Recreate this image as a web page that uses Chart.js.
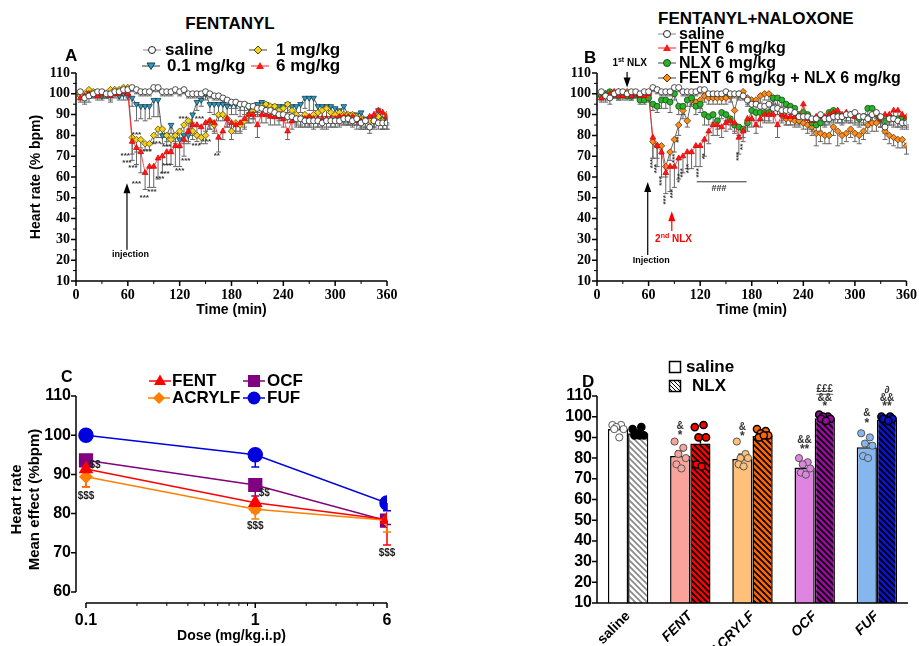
<!DOCTYPE html>
<html>
<head>
<meta charset="utf-8">
<title>Heart rate - fentanyl analogues</title>
<script src="https://cdn.jsdelivr.net/npm/chart.js@4.4.1/dist/chart.umd.min.js"></script>
<style>
  body { margin: 0; width: 919px; height: 646px; position: relative; overflow: hidden; background: #fff;
         font-family: 'Liberation Sans', Arial, sans-serif; font-weight: bold; color: #000; }
  .abs { position: absolute; white-space: nowrap; line-height: 1; }
  canvas { position: absolute; }
</style>
</head>
<body>
<canvas id="cA" width="440" height="265" style="left:0;top:60px"></canvas>
<canvas id="cB" width="398" height="275" style="left:521px;top:50px"></canvas>
<canvas id="cC" width="440" height="266" style="left:0;top:380px"></canvas>
<canvas id="cD" width="398" height="266" style="left:521px;top:380px"></canvas>
<canvas id="cDots" width="398" height="266" style="left:521px;top:380px"></canvas>

<!-- panel A header + legend -->
<div class="abs" style="left:230px;top:15px;font-size:17px;transform:translateX(-50%)">FENTANYL</div>
<div class="abs" style="left:65px;top:47px;font-size:17px">A</div>
<svg class="abs" style="left:142px;top:44px" width="20" height="12"><line x1="1" y1="6" x2="19" y2="6" stroke="#888"/><circle cx="10" cy="6" r="3.5" fill="#fff" stroke="#222"/></svg>
<div class="abs" style="left:165px;top:41px;font-size:17px">saline</div>
<svg class="abs" style="left:248px;top:44px" width="20" height="12"><line x1="1" y1="6" x2="19" y2="6" stroke="#444"/><polygon points="10,2 14,6 10,10 6,6" fill="#f2d21b" stroke="#5a4a00"/></svg>
<div class="abs" style="left:276px;top:41px;font-size:17px">1 mg/kg</div>
<svg class="abs" style="left:141px;top:60px" width="20" height="12"><line x1="1" y1="6" x2="19" y2="6" stroke="#333"/><polygon points="6,3 14,3 10,9.5" fill="#2e9cc2" stroke="#123c4c"/></svg>
<div class="abs" style="left:167px;top:57px;font-size:17px">0.1 mg/kg</div>
<svg class="abs" style="left:250px;top:60px" width="20" height="12"><line x1="1" y1="6" x2="19" y2="6" stroke="#ff2020"/><polygon points="10,2 14,9 6,9" fill="#ff1a1a"/></svg>
<div class="abs" style="left:276px;top:57px;font-size:17px">6 mg/kg</div>

<!-- panel B header + legend -->
<div class="abs" style="left:658px;top:10px;font-size:17px">FENTANYL+NALOXONE</div>
<div class="abs" style="left:584px;top:49px;font-size:17px">B</div>
<svg class="abs" style="left:657px;top:28px" width="20" height="12"><line x1="1" y1="6" x2="19" y2="6" stroke="#888"/><circle cx="10" cy="6" r="3.5" fill="#fff" stroke="#222"/></svg>
<div class="abs" style="left:679px;top:26px;font-size:16px">saline</div>
<svg class="abs" style="left:657px;top:42px" width="20" height="12"><line x1="1" y1="6" x2="19" y2="6" stroke="#ff2020"/><polygon points="10,2 14,9 6,9" fill="#ff1a1a"/></svg>
<div class="abs" style="left:679px;top:40px;font-size:16px">FENT 6 mg/kg</div>
<svg class="abs" style="left:657px;top:57px" width="20" height="12"><line x1="1" y1="6" x2="19" y2="6" stroke="#444"/><circle cx="10" cy="6" r="3.5" fill="#2db02d" stroke="#115511"/></svg>
<div class="abs" style="left:679px;top:55px;font-size:16px">NLX 6 mg/kg</div>
<svg class="abs" style="left:657px;top:72px" width="20" height="12"><line x1="1" y1="6" x2="19" y2="6" stroke="#444"/><polygon points="10,2 14,6 10,10 6,6" fill="#ff8c1a" stroke="#663300"/></svg>
<div class="abs" style="left:679px;top:70px;font-size:16px">FENT 6 mg/kg + NLX 6 mg/kg</div>

<!-- panel C legend -->
<div class="abs" style="left:61px;top:369px;font-size:16px">C</div>
<svg class="abs" style="left:148px;top:373px" width="24" height="16"><line x1="1" y1="8" x2="23" y2="8" stroke="#ff0000" stroke-width="1.5"/><polygon points="12,1.5 18,12 6,12" fill="#ff0000"/></svg>
<div class="abs" style="left:172px;top:372px;font-size:17px">FENT</div>
<svg class="abs" style="left:147px;top:390px" width="24" height="16"><line x1="1" y1="8" x2="23" y2="8" stroke="#ff7f00" stroke-width="1.5"/><polygon points="12,2 18,8 12,14 6,8" fill="#ff7f00"/></svg>
<div class="abs" style="left:172px;top:389px;font-size:17px">ACRYLF</div>
<svg class="abs" style="left:242px;top:373px" width="24" height="16"><line x1="1" y1="8" x2="23" y2="8" stroke="#800080" stroke-width="1.5"/><rect x="6" y="2" width="12" height="12" fill="#800080"/></svg>
<div class="abs" style="left:267px;top:372px;font-size:17px">OCF</div>
<svg class="abs" style="left:242px;top:390px" width="24" height="16"><line x1="1" y1="8" x2="23" y2="8" stroke="#0000dd" stroke-width="1.5"/><circle cx="12" cy="8" r="6.5" fill="#0000dd"/></svg>
<div class="abs" style="left:267px;top:389px;font-size:17px">FUF</div>

<!-- panel D legend -->
<div class="abs" style="left:582px;top:373px;font-size:17px">D</div>
<svg class="abs" style="left:668px;top:360px" width="14" height="14"><rect x="1.5" y="1.5" width="11" height="11" fill="#fff" stroke="#000" stroke-width="1.5"/></svg>
<div class="abs" style="left:686px;top:358px;font-size:17px">saline</div>
<svg class="abs" style="left:668px;top:379px" width="14" height="14"><defs><pattern id="hp" width="4" height="4" patternUnits="userSpaceOnUse"><path d="M0,0 L4,4 M-2,2 L2,6 M2,-2 L6,2" stroke="#000" stroke-width="1"/></pattern></defs><rect x="1.5" y="1.5" width="11" height="11" fill="url(#hp)" stroke="#000" stroke-width="1.5"/></svg>
<div class="abs" style="left:692px;top:377px;font-size:17px">NLX</div>

<script>
// ---------- data ----------
const times = [5, 10, 15, 20, 25, 30, 35, 40, 45, 50, 55, 60,
  65, 70, 75, 80, 85, 90, 95, 100, 105, 110, 115, 120,
  125, 130, 135, 140, 145, 150, 155, 160, 165, 170, 175, 180,
  185, 190, 195, 200, 205, 210, 215, 220, 225, 230, 235, 240,
  245, 250, 255, 260, 265, 270, 275, 280, 285, 290, 295, 300,
  305, 310, 315, 320, 325, 330, 335, 340, 345, 350, 355, 360];

// panel A: fentanyl, % of baseline heart rate
const aSaline = [101, 98, 99, 100, 101, 101, 100, 100, 101, 101, 102, 102,
  103, 102, 101, 101, 101, 103, 103, 101, 101, 101, 102, 101,
  102, 100, 100, 100, 100, 101, 100, 99, 99, 98, 97, 96,
  96, 95, 95, 94, 94, 93, 93, 92, 92, 91, 90, 90,
  89, 89, 88, 88, 87, 87, 87, 87, 86, 87, 87, 87,
  87, 88, 88, 87, 88, 86, 87, 84, 87, 86, 86, 86];
const aLow = [99, 100, 101, 101, 100, 99, 100, 100, 101, 99, 100, 99,
  98, 95, 94, 94, 94, 97, 97, 80, 80, 85, 80, 78,
  80, 80, 90, 96, 97, 100, 95, 95, 95, 95, 94, 95,
  95, 95, 95, 93, 93, 95, 96, 95, 94, 94, 94, 94,
  95, 94, 94, 95, 98, 98, 98, 94, 94, 94, 94, 93,
  92, 94, 90, 90, 90, 91, 88, 88, 89, 92, 88, 88];
const aMid = [99, 100, 102, 101, 100, 100, 100, 102, 102, 102, 103, 103,
  79, 78, 78, 76, 76, 80, 83, 83, 80, 78, 80, 82,
  85, 87, 82, 80, 79, 80, 87, 85, 90, 90, 88, 82,
  86, 85, 87, 90, 92, 93, 94, 95, 94, 94, 92, 93,
  95, 92, 90, 88, 90, 88, 90, 91, 92, 93, 91, 90,
  91, 90, 90, 90, 89, 88, 87, 87, 87, 89, 87, 90];
const aHigh = [98, 99, 100, 100, 99, 100, 100, 99, 100, 100, 101, 100,
  77, 74, 72, 62, 65, 65, 69, 70, 72, 72, 75, 75,
  78, 82, 85, 85, 84, 86, 87, 86, 79, 82, 88, 86,
  85, 86, 88, 90, 90, 85, 90, 90, 89, 89, 89, 88,
  82, 87, 88, 88, 88, 89, 88, 88, 88, 88, 88, 88,
  89, 89, 89, 89, 87, 87, 87, 89, 90, 92, 91, 89];
const aSalineErr = [2, 3, 3, 2, 2, 2, 2, 2, 2, 2, 2, 2,
  2, 2, 2, 2, 2, 2, 2, 2, 2, 2, 2, 2,
  2, 2, 2, 2, 2, 2, 2, 2, 2, 2, 2, 3,
  3, 3, 3, 3, 3, 3, 3, 3, 3, 3, 3, 3,
  3, 3, 3, 3, 3, 3, 4, 3, 3, 4, 3, 3,
  3, 3, 3, 3, 3, 3, 3, 3, 3, 3, 3, 3];
const aLowErr = [1, 4, 2, 2, 2, 2, 2, 3, 2, 2, 3, 2,
  4, 8, 6, 7, 6, 8, 8, 4, 3, 4, 3, 4,
  4, 3, 4, 4, 3, 3, 4, 5, 6, 5, 6, 5,
  5, 6, 5, 5, 5, 4, 4, 4, 4, 4, 4, 4,
  4, 4, 4, 4, 5, 6, 6, 5, 5, 5, 5, 4,
  4, 4, 5, 5, 5, 4, 4, 4, 5, 6, 5, 5];
const aMidErr = [2, 2, 2, 2, 2, 2, 2, 2, 2, 2, 2, 2,
  8, 6, 4, 3, 3, 4, 4, 4, 5, 5, 4, 4,
  5, 4, 4, 3, 3, 4, 4, 4, 3, 3, 4, 4,
  4, 4, 4, 4, 4, 4, 4, 4, 4, 4, 4, 4,
  4, 4, 4, 4, 4, 4, 4, 4, 4, 4, 4, 4,
  4, 4, 4, 4, 4, 4, 4, 4, 4, 4, 4, 4];
const aHighErr = [2, 2, 2, 2, 2, 2, 2, 3, 2, 2, 2, 2,
  9, 8, 10, 8, 10, 10, 10, 8, 6, 6, 10, 10,
  8, 6, 5, 5, 4, 4, 4, 4, 7, 4, 4, 4,
  4, 4, 4, 4, 4, 6, 4, 4, 4, 4, 4, 4,
  4, 4, 4, 4, 4, 4, 4, 4, 4, 4, 4, 4,
  4, 4, 4, 4, 4, 4, 4, 4, 4, 4, 4, 4];

// panel B: fentanyl + naloxone
const bSaline = [101, 99, 98, 100, 101, 101, 100, 101, 101, 100, 101, 101,
  103, 102, 101, 101, 101, 103, 103, 101, 101, 101, 101, 102,
  102, 100, 100, 100, 100, 101, 100, 100, 100, 99, 97, 95,
  95, 94, 94, 95, 93, 93, 92, 92, 92, 91, 89, 89,
  89, 88, 88, 90, 88, 88, 89, 89, 89, 90, 90, 91,
  89, 89, 88, 90, 91, 89, 84, 88, 88, 87, 86, 86];
const bFent = [98, 99, 100, 101, 99, 99, 100, 99, 100, 99, 99, 100,
  79, 75, 72, 62, 65, 65, 69, 70, 72, 72, 75, 75,
  78, 82, 85, 85, 84, 86, 87, 86, 79, 82, 88, 88,
  85, 88, 90, 90, 90, 85, 90, 89, 89, 89, 89, 95,
  88, 87, 89, 89, 89, 90, 91, 92, 90, 91, 90, 89,
  89, 89, 88, 90, 90, 88, 90, 90, 92, 92, 90, 89];
const bNlx = [99, 100, 101, 100, 99, 100, 99, 99, 100, 97, 97, 98,
  95, 94, 97, 97, 96, 100, 94, 94, 97, 98, 94, 95,
  90, 89, 90, 87, 91, 90, 88, 85, 84, 83, 86, 92,
  91, 91, 91, 91, 98, 98, 97, 95, 94, 93, 90, 91,
  90, 86, 85, 86, 88, 91, 92, 90, 89, 90, 90, 90,
  88, 89, 93, 93, 90, 88, 87, 89, 88, 88, 88, 88];
const bCombo = [99, 100, 100, 100, 101, 100, 101, 100, 100, 99, 99, 100,
  77, 75, 75, 65, 72, 78, 85, 92, 87, 97, 96, 97,
  99, 98, 98, 98, 98, 98, 99, 92, 100, 101, 98, 97,
  97, 99, 100, 100, 98, 93, 90, 88, 88, 87, 87, 86,
  85, 84, 81, 81, 80, 80, 84, 82, 80, 81, 83, 81,
  80, 82, 85, 86, 86, 88, 82, 80, 79, 78, 78, 75];
const bSalineErr = [2, 3, 3, 2, 2, 2, 2, 2, 2, 2, 2, 2,
  2, 2, 2, 2, 2, 2, 2, 2, 2, 2, 2, 2,
  2, 2, 2, 2, 2, 2, 2, 2, 2, 2, 3, 3,
  3, 3, 3, 3, 3, 3, 3, 3, 3, 3, 3, 3,
  3, 3, 3, 3, 3, 3, 3, 3, 3, 3, 3, 3,
  3, 3, 3, 3, 3, 3, 3, 3, 3, 3, 3, 3];
const bFentErr = [2, 2, 2, 2, 2, 2, 2, 2, 2, 2, 2, 2,
  10, 10, 12, 10, 12, 10, 10, 8, 8, 8, 10, 10,
  8, 6, 5, 5, 5, 4, 4, 4, 8, 5, 4, 4,
  4, 4, 4, 4, 4, 6, 4, 4, 4, 4, 4, 6,
  5, 4, 4, 4, 4, 4, 4, 4, 4, 4, 4, 4,
  4, 4, 4, 4, 4, 4, 4, 4, 4, 4, 4, 4];
const bNlxErr = [2, 2, 2, 2, 2, 2, 2, 2, 2, 2, 2, 2,
  3, 3, 4, 4, 5, 3, 4, 4, 3, 3, 4, 4,
  5, 4, 4, 4, 3, 3, 3, 4, 4, 4, 4, 4,
  4, 4, 4, 4, 3, 3, 3, 3, 4, 4, 4, 4,
  4, 4, 4, 4, 4, 4, 4, 4, 4, 4, 4, 4,
  4, 4, 3, 3, 4, 4, 4, 4, 4, 4, 4, 4];
const bComboErr = [2, 2, 2, 2, 2, 2, 2, 2, 2, 2, 2, 2,
  8, 6, 4, 5, 4, 6, 5, 4, 3, 3, 3, 4,
  3, 3, 3, 3, 3, 3, 3, 8, 3, 3, 3, 3,
  3, 3, 3, 3, 3, 3, 3, 3, 3, 3, 3, 3,
  4, 4, 6, 4, 4, 4, 4, 7, 4, 4, 4, 4,
  4, 4, 4, 4, 4, 4, 4, 4, 4, 4, 4, 4];

// panel C: mean effect per dose
const doses = [0.1, 1, 6];
const cFent = [91.4, 82.8, 78.5];
const cAcrylf = [89.4, 81.1, 78.3];
const cOcf = [93.6, 87.3, 78.2];
const cFuf = [100, 95, 82.7];
const cFentErr = [4.6, 2.5, 6.5];
const cAcrylfErr = [2.7, 2.5, 3.0];
const cOcfErr = [1.2, 2.8, 1.0];
const cFufErr = [0.4, 3.1, 2.0];
const cYTicks = [60, 70, 80, 90, 100, 110];

// panel D: saline vs NLX pretreatment
const groups = ['saline', 'FENT', 'ACRYLF', 'OCF', 'FUF'];
const dSaline = [94, 81, 79.6, 75.5, 85.2];
const dNlx = [92, 87, 90.7, 99.2, 98.7];
const dSalineErr = [1.2, 2.5, 2.2, 1.2, 2.0];
const dNlxErr = [1.0, 4.0, 1.2, 0.8, 0.6];
const dSalineDots = [[96, 96, 95, 94, 94, 90], [88, 85, 82, 80, 77, 75], [88, 82, 80, 80, 77, 76],
  [80, 78, 77, 75, 73, 72], [92, 90, 87, 86, 81, 80]];
const dNlxDots = [[94, 95, 92, 91, 91, 91], [95, 96, 90, 90, 77, 76], [94, 93, 92, 91, 90, 91],
  [101, 100, 100, 99, 99, 98], [100, 100, 99, 99, 99, 98]];
const dTicks = [10, 20, 30, 40, 50, 60, 70, 80, 90, 100, 110];

// annotations (time, value, text)
const starsA = [[70, 80.5, '***'], [57, 70, '***'], [59, 67, '***'], [66, 64.5, '***'], [70, 56.5, '***'],
  [79, 50, '***'], [88, 53, '***'], [82, 72, '***'], [93, 76, '***'], [105, 74.5, '***'],
  [105, 65.5, '***'], [103, 61.5, '***'], [97, 59, '***'], [120, 63, '***'], [127, 68, '***'],
  [124, 88, '***'], [143, 88, '***'], [139, 75, '***'], [151, 77, '***'], [163, 70, '**']];
const starsB = [[65, 66.5, '***'], [70, 64, '***'], [75, 58, '***'], [80, 49, '***'], [88, 52, '***'],
  [90, 69, '***'], [95, 78, '**'], [96, 59.5, '***'], [100, 62, '***'], [107, 64, '***'],
  [118, 62, '***'], [125, 70, '**'], [165, 70, '***'], [170, 74.5, '**']];

// ---------- styles ----------
const SANS = "'Liberation Sans', Arial, sans-serif";
const SERIF = "'Liberation Serif', 'Times New Roman', serif";
const NARROW = "'Liberation Sans Narrow', 'Liberation Sans', Arial, sans-serif";
const jitter = [-0.09, 0.05, -0.03, 0.09, -0.06, 0.02];
const lightCols = ['#ffffff', '#f9a39b', '#ffc07a', '#dd85e0', '#86b6ee'];
const strongCols = ['#ffffff', '#ff0000', '#ff6600', '#9a0aa0', '#0a14cc'];

function series(vals) { return vals.map((v, i) => ({ x: times[i], y: v })); }

function hatch(bg, fg) {
  const c = document.createElement('canvas');
  c.width = c.height = 6;
  const g = c.getContext('2d');
  g.fillStyle = bg; g.fillRect(0, 0, 6, 6);
  g.strokeStyle = fg; g.lineWidth = 1.7;
  g.beginPath();
  g.moveTo(-1, -1); g.lineTo(7, 7);
  g.moveTo(-4, 2); g.lineTo(4, 10);
  g.moveTo(2, -4); g.lineTo(10, 4);
  g.stroke();
  return g.createPattern(c, 'repeat');
}

// ---------- plugins ----------
const errorBars = {
  id: 'errorBars',
  beforeDatasetsDraw(chart) {
    const ctx = chart.ctx;
    chart.data.datasets.forEach((ds, di) => {
      if (!ds.errors) return;
      const meta = chart.getDatasetMeta(di);
      const ys = chart.scales[meta.yAxisID];
      const cap = ds.errorCap || 2.5, dir = ds.errorDir || -1;
      ctx.save();
      ctx.strokeStyle = ds.errorColor || '#666';
      ctx.lineWidth = ds.errorWidth || 1;
      meta.data.forEach((el, i) => {
        const e = ds.errors[i];
        if (!e) return;
        const v = meta.controller.getParsed(i).y;
        const y0 = ys.getPixelForValue(v), y1 = ys.getPixelForValue(v + dir * e);
        ctx.beginPath();
        ctx.moveTo(el.x, y0); ctx.lineTo(el.x, y1);
        ctx.moveTo(el.x - cap, y1); ctx.lineTo(el.x + cap, y1);
        ctx.stroke();
      });
      ctx.restore();
    });
  }
};

// Prism-like axes: own axis lines, major and minor ticks
function axesPlugin(a) {
  return {
    id: 'prismAxes',
    afterDraw(chart) {
      const { ctx, chartArea } = chart;
      const xs = chart.scales.x, ys = chart.scales.y;
      const bottom = chartArea.bottom, left = chartArea.left;
      const x0 = a.xFrom != null ? xs.getPixelForValue(a.xFrom) : chartArea.left;
      const x1 = a.xTo != null ? xs.getPixelForValue(a.xTo) : chartArea.right;
      const y0 = a.yFrom != null ? ys.getPixelForValue(a.yFrom) : chartArea.bottom;
      const y1 = a.yTo != null ? ys.getPixelForValue(a.yTo) : chartArea.top;
      ctx.save();
      ctx.strokeStyle = '#000';
      ctx.lineWidth = 1.5;
      ctx.beginPath();
      ctx.moveTo(x0, bottom); ctx.lineTo(x1, bottom);
      ctx.moveTo(left, y0); ctx.lineTo(left, y1);
      (a.xMajor || []).forEach(v => { const p = xs.getPixelForValue(v); ctx.moveTo(p, bottom); ctx.lineTo(p, bottom + 5); });
      (a.yMajor || []).forEach(v => { const p = ys.getPixelForValue(v); ctx.moveTo(left, p); ctx.lineTo(left - 5, p); });
      ctx.stroke();
      ctx.lineWidth = 1;
      ctx.beginPath();
      (a.xMinor || []).forEach(v => { const p = xs.getPixelForValue(v); ctx.moveTo(p, bottom); ctx.lineTo(p, bottom + 3); });
      (a.yMinor || []).forEach(v => { const p = ys.getPixelForValue(v); ctx.moveTo(left, p); ctx.lineTo(left - 3, p); });
      ctx.stroke();
      ctx.restore();
    }
  };
}

function drawParts(ctx, parts, size, family) {
  const fontOf = sup => `bold ${sup ? Math.round(size * 0.7) : size}px ${family}`;
  let w = 0;
  parts.forEach(([s, sup]) => { ctx.font = fontOf(sup); w += ctx.measureText(s).width; });
  let x = -w / 2;
  ctx.textAlign = 'left';
  ctx.textBaseline = 'middle';
  parts.forEach(([s, sup]) => {
    ctx.font = fontOf(sup);
    ctx.fillText(s, x, sup ? -size * 0.35 : 0);
    x += ctx.measureText(s).width;
  });
  return w;
}

function notesPlugin(notes) {
  return {
    id: 'notes',
    afterDraw(chart) {
      const ctx = chart.ctx, xs = chart.scales.x, ys = chart.scales.y;
      const px = v => xs.getPixelForValue(v), py = v => ys.getPixelForValue(v);
      ctx.save();
      (notes.arrows || []).forEach(a => {
        const x = px(a.x), y1 = py(a.from), y2 = py(a.to);
        const d = y2 < y1 ? 1 : -1;
        ctx.strokeStyle = ctx.fillStyle = a.color || '#000';
        ctx.lineWidth = 1.2;
        ctx.beginPath(); ctx.moveTo(x, y1); ctx.lineTo(x, y2 + d * 5); ctx.stroke();
        ctx.beginPath(); ctx.moveTo(x, y2); ctx.lineTo(x - 3.5, y2 + d * 10); ctx.lineTo(x + 3.5, y2 + d * 10);
        ctx.closePath(); ctx.fill();
      });
      (notes.lines || []).forEach(l => {
        ctx.strokeStyle = '#333'; ctx.lineWidth = 1;
        ctx.beginPath(); ctx.moveTo(px(l.x1), py(l.y)); ctx.lineTo(px(l.x2), py(l.y)); ctx.stroke();
      });
      (notes.texts || []).forEach(t => {
        ctx.save();
        ctx.translate(px(t.x), py(t.y));
        if (t.rot) ctx.rotate(t.rot);
        ctx.fillStyle = t.color || '#333';
        const size = t.size || 9;
        const w = drawParts(ctx, t.parts || [[t.text, 0]], size, t.family || SANS);
        if (t.underline) {
          ctx.strokeStyle = ctx.fillStyle; ctx.lineWidth = 0.8;
          ctx.beginPath(); ctx.moveTo(-w / 2, size * 0.55); ctx.lineTo(w / 2, size * 0.55); ctx.stroke();
        }
        ctx.restore();
      });
      ctx.restore();
    }
  };
}

// ---------- shared options for the time-course panels ----------
function timeOptions(showYTitle, padTop, padRight) {
  return {
    responsive: false, animation: false, events: [],
    layout: { padding: { top: padTop, right: padRight, left: 0, bottom: 0 } },
    plugins: { legend: { display: false }, tooltip: { enabled: false } },
    scales: {
      x: {
        type: 'linear', min: 0, max: 360,
        grid: { display: false, tickLength: 4 }, border: { display: false },
        ticks: { stepSize: 60, autoSkip: false, maxRotation: 0, padding: 2, color: '#000',
                 font: { family: SERIF, size: 14, weight: 'bold' } },
        title: { display: true, text: 'Time (min)', color: '#000', padding: { top: 0, bottom: 6 },
                 font: { family: SANS, size: 14, weight: 'bold' } },
        afterFit: s => { s.height = 44; }
      },
      y: {
        min: 10, max: 110,
        grid: { display: false, tickLength: 4 }, border: { display: false },
        ticks: { stepSize: 10, autoSkip: false, padding: 2, color: '#000', font: { family: SERIF, size: 14, weight: 'bold' } },
        title: { display: showYTitle, text: 'Heart rate (% bpm)', color: '#000', padding: { top: 28, bottom: 0 },
                 font: { family: SANS, size: 14, weight: 'bold' } },
        afterFit: s => { s.width = 76; }
      }
    }
  };
}

const timeAxes = {
  xMajor: [0, 60, 120, 180, 240, 300, 360], xMinor: [30, 90, 150, 210, 270, 330],
  yMajor: [10, 20, 30, 40, 50, 60, 70, 80, 90, 100, 110], yMinor: [15, 25, 35, 45, 55, 65, 75, 85, 95, 105]
};

function lineSet(vals, errs, line, style, r, bg, border, rot) {
  return { data: series(vals), errors: errs, borderColor: line, borderWidth: 0.8, pointStyle: style,
           pointRadius: r, pointRotation: rot || 0, pointBackgroundColor: bg, pointBorderColor: border,
           pointBorderWidth: 0.8, errorColor: '#666' };
}

// ---------- panel A ----------
new Chart(document.getElementById('cA'), {
  type: 'line',
  data: { datasets: [
    lineSet(aSaline, aSalineErr, '#999', 'circle', 3, '#fff', '#222'),
    lineSet(aHigh, aHighErr, '#ff2020', 'triangle', 3.3, '#ff1a1a', '#e00000'),
    lineSet(aMid, aMidErr, '#444', 'rectRot', 3.3, '#f2d21b', '#5a4a00'),
    lineSet(aLow, aLowErr, '#333', 'triangle', 3.3, '#2e9cc2', '#123c4c', 180)
  ] },
  options: timeOptions(true, 13, 53),
  plugins: [errorBars, axesPlugin(timeAxes), notesPlugin({
    arrows: [{ x: 59, from: 25, to: 57 }],
    texts: [{ x: 63, y: 22.5, text: 'injection', size: 9, color: '#000', family: NARROW }]
      .concat(starsA.map(s => ({ x: s[0], y: s[1], text: s[2], size: 8 })))
  })]
});

// ---------- panel B ----------
new Chart(document.getElementById('cB'), {
  type: 'line',
  data: { datasets: [
    lineSet(bSaline, bSalineErr, '#999', 'circle', 3, '#fff', '#222'),
    lineSet(bFent, bFentErr, '#ff2020', 'triangle', 3.3, '#ff1a1a', '#e00000'),
    lineSet(bNlx, bNlxErr, '#444', 'circle', 3, '#2db02d', '#115511'),
    lineSet(bCombo, bComboErr, '#444', 'rectRot', 3.3, '#ff8c1a', '#663300')
  ] },
  options: timeOptions(false, 23, 11),
  plugins: [errorBars, axesPlugin(timeAxes), notesPlugin({
    arrows: [{ x: 59, from: 22.5, to: 57.6 }, { x: 35, from: 110.5, to: 103 }, { x: 87, from: 34, to: 43.5, color: '#ff0000' }],
    lines: [{ x1: 116, x2: 174, y: 57.7 }],
    texts: [
      { x: 63, y: 20, text: 'Injection', size: 9, color: '#000', family: NARROW },
      { x: 38, y: 114.5, parts: [['1', 0], ['st', 1], [' NLX', 0]], size: 10, color: '#000' },
      { x: 89, y: 30, parts: [['2', 0], ['nd', 1], [' NLX', 0]], size: 10, color: '#ff0000' },
      { x: 142, y: 54.3, text: '###', size: 9 }
    ].concat(starsB.map(s => ({ x: s[0], y: s[1], text: s[2], size: 8, rot: -Math.PI / 2 })))
  })]
});

// ---------- panel C ----------
function doseSet(vals, errs, color, style, r) {
  return { data: vals.map((v, i) => ({ x: doses[i], y: v })), errors: errs, borderColor: color,
           borderWidth: 1.5, pointStyle: style, pointRadius: r, pointBackgroundColor: color,
           pointBorderColor: color, errorColor: color, errorWidth: 1.5, errorCap: 4 };
}
new Chart(document.getElementById('cC'), {
  type: 'line',
  data: { datasets: [
    doseSet(cFent, cFentErr, '#ff0000', 'triangle', 7),
    doseSet(cAcrylf, cAcrylfErr, '#ff7f00', 'rectRot', 6),
    doseSet(cOcf, cOcfErr, '#800080', 'rect', 9),
    doseSet(cFuf, cFufErr, '#0000dd', 'circle', 7)
  ] },
  options: {
    responsive: false, animation: false, events: [],
    layout: { padding: { top: 16, right: 53, left: 0, bottom: 0 } },
    plugins: { legend: { display: false }, tooltip: { enabled: false } },
    scales: {
      x: {
        type: 'logarithmic', min: 0.0873, max: 6,
        afterBuildTicks: s => { s.ticks = doses.map(v => ({ value: v })); },
        grid: { display: false, tickLength: 5 }, border: { display: false },
        ticks: { callback: v => String(v), autoSkip: false, maxRotation: 0, padding: 3, color: '#000',
                 font: { family: SANS, size: 16, weight: 'bold' } },
        title: { display: true, text: 'Dose (mg/kg.i.p)', color: '#000', padding: { top: 0, bottom: 1 },
                 font: { family: SANS, size: 14, weight: 'bold' } },
        afterFit: s => { s.height = 43; }
      },
      y: {
        min: 57.2, max: 110,
        afterBuildTicks: s => { s.ticks = cYTicks.map(v => ({ value: v })); },
        grid: { display: false, tickLength: 4 }, border: { display: false },
        ticks: { autoSkip: false, padding: 1, color: '#000', font: { family: SANS, size: 16, weight: 'bold' } },
        title: { display: true, text: ['Heart rate', 'Mean effect (%bpm)'], color: '#000', padding: { top: 8, bottom: 0 },
                 font: { family: SANS, size: 15, weight: 'bold' } },
        afterFit: s => { s.width = 76; }
      }
    }
  },
  plugins: [errorBars, axesPlugin({
    xFrom: 0.1, xTo: 6, yFrom: 60, yTo: 110,
    xMajor: doses, xMinor: [0.2, 0.3, 0.4, 0.5, 0.6, 0.7, 0.8, 0.9, 2, 3, 4, 5],
    yMajor: cYTicks
  }), notesPlugin({
    texts: [
      { x: 0.113, y: 92.3, text: '$$', size: 10, color: '#222' },
      { x: 0.1, y: 84.5, text: '$$$', size: 10, color: '#222' },
      { x: 1.13, y: 85.2, text: '$$', size: 10, color: '#222' },
      { x: 1, y: 76.8, text: '$$$', size: 10, color: '#222' },
      { x: 6, y: 70, text: '$$$', size: 10, color: '#222' }
    ]
  })]
});

// ---------- panel D: bars ----------
const nlxFills = strongCols.map((c, i) => i === 0 ? hatch('#ffffff', '#8a8a8a') : hatch(c, '#000'));
new Chart(document.getElementById('cD'), {
  type: 'bar',
  data: {
    labels: groups,
    datasets: [
      { data: dSaline, backgroundColor: lightCols, borderColor: '#000', borderWidth: 1.5, borderSkipped: false,
        categoryPercentage: 0.65, barPercentage: 1, errors: dSalineErr, errorDir: 1, errorColor: '#000',
        errorWidth: 1.5, errorCap: 4 },
      { data: dNlx, backgroundColor: nlxFills, borderColor: '#000', borderWidth: 1.5, borderSkipped: false,
        categoryPercentage: 0.65, barPercentage: 1, errors: dNlxErr, errorDir: 1, errorColor: '#000',
        errorWidth: 1.5, errorCap: 4 }
    ]
  },
  options: {
    responsive: false, animation: false, events: [],
    layout: { padding: { top: 16, right: 11, left: 0, bottom: 0 } },
    plugins: { legend: { display: false }, tooltip: { enabled: false } },
    scales: {
      x: {
        grid: { display: false, tickLength: 3 }, border: { display: false },
        ticks: { autoSkip: false, minRotation: 45, maxRotation: 45, padding: 2, color: '#000',
                 font: c => ({ family: SANS, size: 14, weight: 'bold', style: c.index === 0 ? 'normal' : 'italic' }) },
        afterFit: s => { s.height = 43; }
      },
      y: {
        min: 10, max: 110,
        afterBuildTicks: s => { s.ticks = dTicks.map(v => ({ value: v })); },
        grid: { display: false, tickLength: 4 }, border: { display: false },
        ticks: { autoSkip: false, padding: 1, color: '#000', font: { family: SANS, size: 16, weight: 'bold' } },
        afterFit: s => { s.width = 76; }
      }
    }
  },
  plugins: [errorBars, axesPlugin({ yMajor: dTicks })]
});

// ---------- panel D: individual animals, same plot box (x = group index) ----------
function dotPoints(sets, side) {
  const pts = [];
  sets.forEach((vals, g) => vals.forEach((v, k) => pts.push({ x: g + side * 0.1625 + jitter[k], y: v })));
  return pts;
}
const salineDotFill = dSalineDots.flatMap((vals, g) => vals.map(() => lightCols[g]));
const nlxDotFill = dNlxDots.flatMap((vals, g) => vals.map(() => g === 0 ? '#000' : strongCols[g]));
new Chart(document.getElementById('cDots'), {
  type: 'scatter',
  data: { datasets: [
    { data: dotPoints(dNlxDots, 1), pointRadius: 3.6, pointBackgroundColor: nlxDotFill,
      pointBorderColor: '#000', pointBorderWidth: 1.5 },
    { data: dotPoints(dSalineDots, -1), pointRadius: 3.6, pointBackgroundColor: salineDotFill,
      pointBorderColor: '#555', pointBorderWidth: 1 }
  ] },
  options: {
    responsive: false, animation: false, events: [],
    layout: { padding: { top: 16, right: 11, left: 76, bottom: 43 } },
    plugins: { legend: { display: false }, tooltip: { enabled: false } },
    scales: {
      x: { type: 'linear', min: -0.5, max: 4.5, display: false },
      y: { min: 10, max: 110, display: false }
    }
  },
  plugins: [notesPlugin({
    texts: [
      { x: 1 - 0.1625, y: 95.5, text: '&', size: 10 }, { x: 1 - 0.1625, y: 90.6, text: '*', size: 12 },
      { x: 2 - 0.1625, y: 95, text: '&', size: 10 }, { x: 2 - 0.1625, y: 90.3, text: '*', size: 12 },
      { x: 3 - 0.1625, y: 88.8, text: '&&', size: 10 }, { x: 3 - 0.1625, y: 84, text: '**', size: 12 },
      { x: 3 + 0.1625, y: 113.5, text: '£££', size: 10, underline: true }, { x: 3 + 0.1625, y: 109, text: '&&', size: 10 },
      { x: 3 + 0.1625, y: 104.8, text: '*', size: 12 },
      { x: 4 - 0.1625, y: 101.5, text: '&', size: 10 }, { x: 4 - 0.1625, y: 96.8, text: '*', size: 12 },
      { x: 4 + 0.1625, y: 113, text: '∂', size: 10 }, { x: 4 + 0.1625, y: 109, text: '&&', size: 10 },
      { x: 4 + 0.1625, y: 104.6, text: '**', size: 12 }
    ]
  })]
});
</script>
</body>
</html>
